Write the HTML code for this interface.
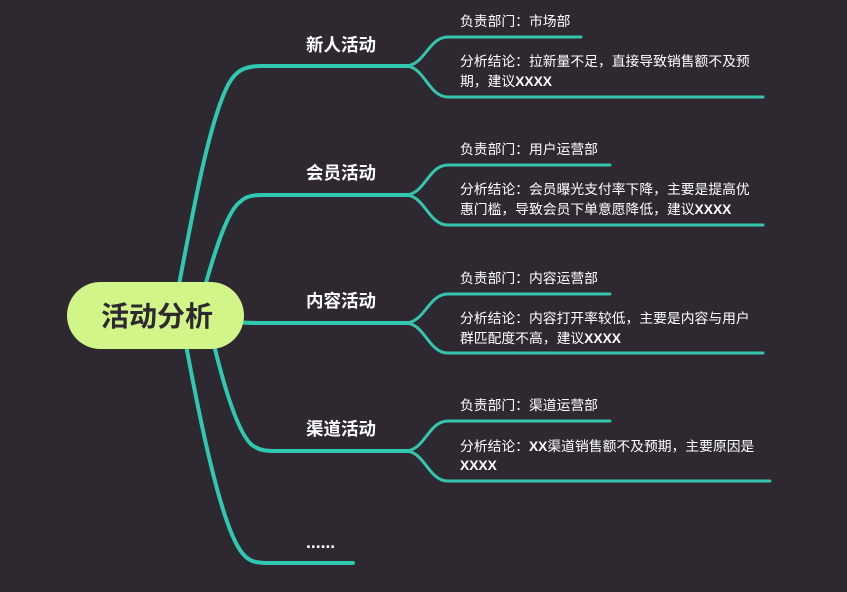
<!DOCTYPE html>
<html><head><meta charset="utf-8"><style>
html,body{margin:0;padding:0;background:#2e2930;}
svg{display:block}
text{font-family:"Liberation Sans","Noto Sans CJK SC",sans-serif;fill:#fff}
.b{font-size:17.5px;font-weight:bold}
.l{font-size:13.8px}
</style></head><body>
<svg width="847" height="592" viewBox="0 0 847 592" xmlns="http://www.w3.org/2000/svg">
<rect width="847" height="592" fill="#2e2930"/>
<g fill="none" stroke="#2ec9b0" stroke-linecap="round">
<path d="M178 290 C195 200 210 120 228 85 C236 70 245 66 262 66 L410 66" stroke-width="4"/>
<path d="M204 290 C215 250 228 210 240 202 C246 196 252 195 265 195 L410 195" stroke-width="4"/>
<path d="M240 322 C245 323 250 323 265 323 L410 323" stroke-width="4"/>
<path d="M214 345 C225 390 240 440 255 447 C260 450 265 451 275 451 L410 451" stroke-width="4"/>
<path d="M186 345 C200 420 220 520 240 550 C248 562 255 563 270 563 L353 563" stroke-width="4"/>
<g stroke-width="3" stroke="#35c4ae">
<path d="M405 66 C425 66 428 37 448 37 L581 37"/>
<path d="M405 66 C425 66 428 97 448 97 L763 97"/>
<path d="M405 195 C425 195 428 165 448 165 L610 165"/>
<path d="M405 195 C425 195 428 225 448 225 L763 225"/>
<path d="M405 323 C425 323 428 294 448 294 L610 294"/>
<path d="M405 323 C425 323 428 353 448 353 L763 353"/>
<path d="M405 451 C425 451 428 421 448 421 L610 421"/>
<path d="M405 451 C425 451 428 481 448 481 L770 481"/>
</g>
</g>
<rect x="67" y="282" width="177" height="67" rx="33.5" fill="#d1f589"/>
<text x="157" y="326" text-anchor="middle" style="font-size:28px;font-weight:bold;fill:#2e2930">活动分析</text>
<text class="b" x="306" y="51">新人活动</text>
<text class="b" x="306" y="179">会员活动</text>
<text class="b" x="306" y="307">内容活动</text>
<text class="b" x="306" y="435">渠道活动</text>
<text class="b" x="306" y="548">......</text>
<text class="l" x="460" y="26">负责部门：市场部</text>
<text class="l" x="460" y="66">分析结论：拉新量不足，直接导致销售额不及预</text>
<text class="l" x="460" y="86">期，建议<tspan font-weight="bold">XXXX</tspan></text>
<text class="l" x="460" y="154">负责部门：用户运营部</text>
<text class="l" x="460" y="194">分析结论：会员曝光支付率下降，主要是提高优</text>
<text class="l" x="460" y="214">惠门槛，导致会员下单意愿降低，建议<tspan font-weight="bold">XXXX</tspan></text>
<text class="l" x="460" y="283">负责部门：内容运营部</text>
<text class="l" x="460" y="323">分析结论：内容打开率较低，主要是内容与用户</text>
<text class="l" x="460" y="343">群匹配度不高，建议<tspan font-weight="bold">XXXX</tspan></text>
<text class="l" x="460" y="410">负责部门：渠道运营部</text>
<text class="l" x="460" y="451">分析结论：<tspan font-weight="bold">XX</tspan>渠道销售额不及预期，主要原因是</text>
<text class="l" x="460" y="470" font-weight="bold">XXXX</text>
</svg>
</body></html>
